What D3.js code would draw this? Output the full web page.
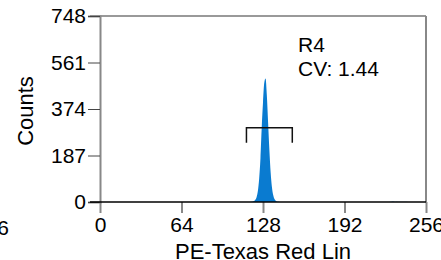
<!DOCTYPE html>
<html>
<head>
<meta charset="utf-8">
<script src="https://cdn.jsdelivr.net/npm/d3@7"></script>
<style>
  body { margin: 0; background: #fff; }
  svg { display: block; font-family: "Liberation Sans", Arial, sans-serif; }
</style>
</head>
<body>
<div id="plot-box"></div>
<script>
// histogram channels and counts
const channels = [118, 119, 120, 121, 122, 123, 124, 125, 126, 127, 128, 129, 130, 131, 132, 133, 134, 135, 136, 137, 138, 139, 140, 141];
const counts   = [0, 1, 2, 4, 9, 20, 45, 95, 175, 300, 400, 480, 497, 430, 320, 210, 120, 60, 28, 12, 5, 2, 1, 0];
// tiny scattered events near the top of the range
const noiseChannels = [226, 228, 229, 230, 231, 232, 233, 235, 236, 238, 240, 242];
const noiseCounts   = [0, 1, 2, 3, 2, 1, 2, 1, 1, 1, 1, 0];

const xTicks = [0, 64, 128, 192, 256];
const yTicks = [0, 187, 374, 561, 748];
const gate = {name: "R4", cv: "1.44", x0: 115, x1: 151, level: 299};

function renderPlot() {
    const W = 441, H = 260;
    const left = 100, right = 426, top = 16, bottom = 202;

    const svg = d3.select("#plot-box")
        .append("svg")
        .attr("width", W)
        .attr("height", H);

    const x = d3.scaleLinear().domain([0, 256]).range([left, right]);
    const y = d3.scaleLinear().domain([0, 748]).range([bottom, top]);

    // histogram area
    const area = d3.area()
        .x(d => x(d[0]))
        .y0(y(0))
        .y1(d => y(d[1]))
        .curve(d3.curveMonotoneX);

    svg.append("path")
        .datum(d3.zip(channels, counts))
        .attr("d", area)
        .attr("fill", "#0a7bd0");

    svg.append("path")
        .datum(d3.zip(noiseChannels, noiseCounts))
        .attr("d", area)
        .attr("fill", "#4a9bd8")
        .attr("opacity", 0.7);

    // frame: top and right border
    svg.append("line")
        .attr("x1", left - 10).attr("x2", right)
        .attr("y1", top).attr("y2", top)
        .attr("stroke", "#777").attr("stroke-width", 1.5);
    svg.append("line")
        .attr("x1", right).attr("x2", right)
        .attr("y1", top).attr("y2", bottom)
        .attr("stroke", "#888").attr("stroke-width", 2);

    // y axis
    const yAxis = svg.append("g")
        .attr("transform", `translate(${left},0)`)
        .call(d3.axisLeft(y).tickValues(yTicks).tickSize(12).tickPadding(2));
    yAxis.select(".domain").attr("stroke", "#888").attr("stroke-width", 2);
    yAxis.selectAll(".tick line").attr("stroke", "#444");
    yAxis.selectAll(".tick text")
        .attr("font-size", 21)
        .attr("fill", "#000")
        .attr("font-family", "Liberation Sans, Arial, sans-serif");

    // x axis
    const xAxis = svg.append("g")
        .attr("transform", `translate(0,${bottom})`)
        .call(d3.axisBottom(x).tickValues(xTicks).tickSize(11).tickPadding(4));
    xAxis.select(".domain").remove();
    xAxis.selectAll(".tick line").attr("stroke", "#888").attr("stroke-width", 2);
    xAxis.selectAll(".tick text")
        .attr("font-size", 21)
        .attr("fill", "#000")
        .attr("font-family", "Liberation Sans, Arial, sans-serif");

    // baseline
    svg.append("line")
        .attr("x1", left - 10).attr("x2", right)
        .attr("y1", bottom).attr("y2", bottom)
        .attr("stroke", "#000").attr("stroke-width", 1.5);

    // neighbouring panel label, clipped by the window edge
    svg.append("text")
        .attr("x", 9).attr("y", 235)
        .attr("text-anchor", "end")
        .attr("font-size", 21)
        .text("256");

    // axis titles
    svg.append("text")
        .attr("x", (left + right) / 2).attr("y", 259)
        .attr("text-anchor", "middle")
        .attr("font-size", 22)
        .text("PE-Texas Red Lin");

    svg.append("text")
        .attr("transform", `translate(33,${(top + bottom) / 2 + 2}) rotate(-90)`)
        .attr("text-anchor", "middle")
        .attr("font-size", 22)
        .text("Counts");

    // gate bracket
    const gy = y(gate.level);
    svg.append("path")
        .attr("d", `M${x(gate.x0)},${gy + 15}V${gy}H${x(gate.x1)}V${gy + 15}`)
        .attr("fill", "none")
        .attr("stroke", "#111")
        .attr("stroke-width", 1.5);

    svg.append("text")
        .attr("x", 298).attr("y", 52)
        .attr("font-size", 21)
        .text(gate.name);
    svg.append("text")
        .attr("x", 298).attr("y", 76)
        .attr("font-size", 21)
        .text("CV: " + gate.cv);
}

renderPlot();
</script>
</body>
</html>
